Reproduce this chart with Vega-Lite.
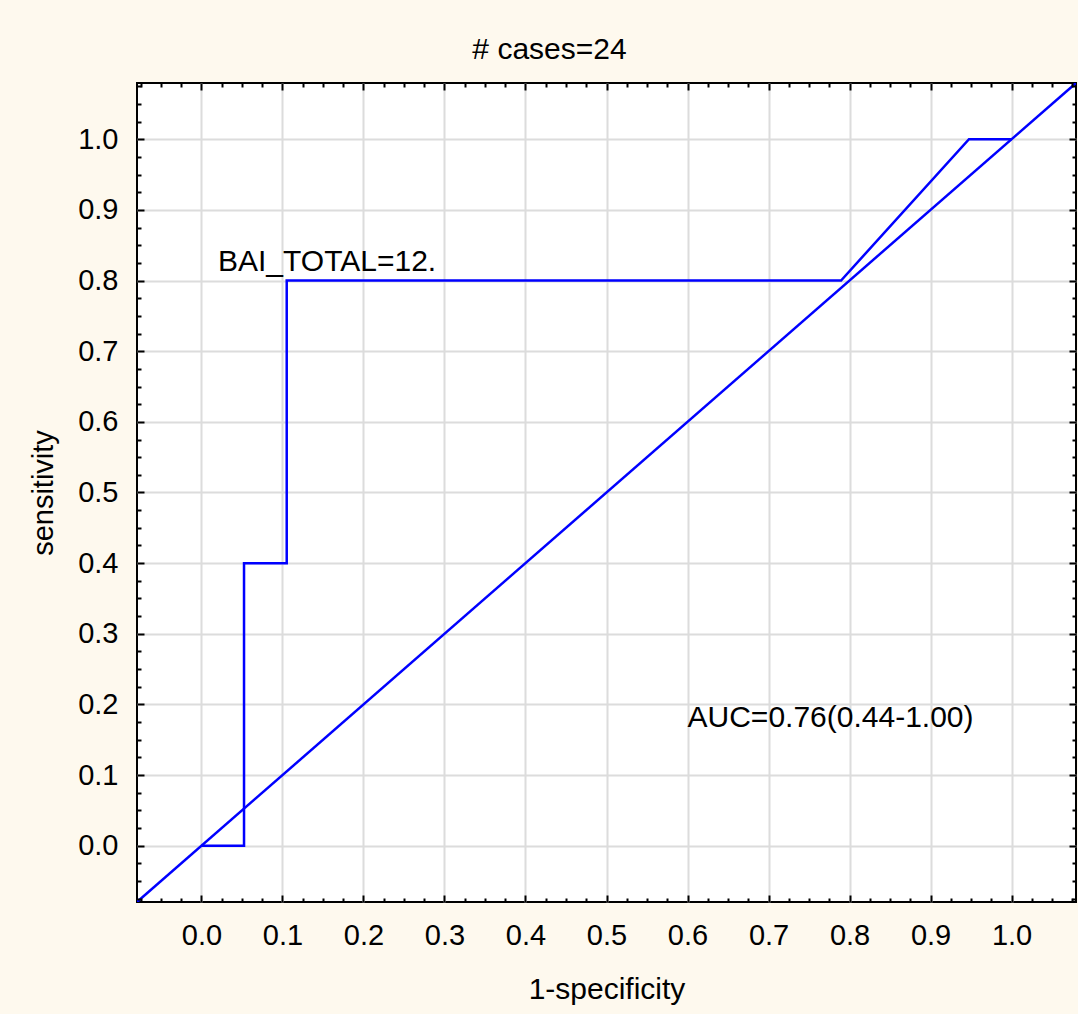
{
  "$schema": "https://vega.github.io/schema/vega-lite/v6.json",
  "width": 939,
  "height": 819,
  "autosize": "none",
  "padding": {"left": 137, "top": 83, "right": 2, "bottom": 112},
  "background": "#FEF9EE",
  "title": {
    "text": "# cases=24",
    "font": "Liberation Sans",
    "fontSize": 30,
    "fontWeight": "normal",
    "color": "black",
    "frame": "group",
    "anchor": "middle",
    "dx": -57,
    "dy": 31,
    "baseline": "alphabetic",
    "offset": 24
  },
  "config": {
    "view": {"fill": "white", "stroke": "black", "strokeWidth": 2},
    "axis": {"labelFont": "Liberation Sans", "titleFont": "Liberation Sans", "labelColor": "black", "titleColor": "black", "titleFontWeight": "normal"}
  },
  "datasets": {
    "roc": [
      {"i": 0, "fpr": 0.0, "tpr": 0.0},
      {"i": 1, "fpr": 0.0526, "tpr": 0.0},
      {"i": 2, "fpr": 0.0526, "tpr": 0.4},
      {"i": 3, "fpr": 0.1053, "tpr": 0.4},
      {"i": 4, "fpr": 0.1053, "tpr": 0.8},
      {"i": 5, "fpr": 0.7895, "tpr": 0.8},
      {"i": 6, "fpr": 0.9474, "tpr": 1.0},
      {"i": 7, "fpr": 1.0, "tpr": 1.0}
    ],
    "diag": [
      {"i": 0, "fpr": -0.0795, "tpr": -0.0795},
      {"i": 1, "fpr": 1.0795, "tpr": 1.0795}
    ],
    "note1": [{"fpr": 0.0205, "tpr": 0.8137, "label": "BAI_TOTAL=12."}],
    "note2": [{"fpr": 0.6, "tpr": 0.1675, "label": "AUC=0.76(0.44-1.00)"}]
  },
  "resolve": {"axis": {"x": "independent", "y": "independent"}},
  "layer": [
    {
      "data": {"name": "roc"},
      "mark": {"type": "line", "color": "#0000FF", "strokeWidth": 2.5, "clip": true},
      "encoding": {
        "x": {
          "field": "fpr", "type": "quantitative",
          "scale": {"domain": [-0.0795, 1.0795], "nice": false, "zero": false},
          "axis": {
            "orient": "bottom",
            "values": [0, 0.1, 0.2, 0.3, 0.4, 0.5, 0.6, 0.7, 0.8, 0.9, 1],
            "format": ".1f",
            "labelFontSize": 29,
            "labelBaseline": "alphabetic",
            "labelPadding": 42,
            "labelFlush": false,
            "labelOverlap": false,
            "ticks": false,
            "tickSize": 0,
            "domain": false,
            "grid": true,
            "gridColor": "#DCDCDC",
            "gridWidth": 2,
            "title": "1-specificity",
            "titleFontSize": 30,
            "titleX": 469.5,
            "titleY": 96,
            "titleAlign": "center",
            "titleBaseline": "alphabetic"
          }
        },
        "y": {
          "field": "tpr", "type": "quantitative",
          "scale": {"domain": [-0.0795, 1.0795], "nice": false, "zero": false},
          "axis": {
            "orient": "left",
            "values": [0, 0.1, 0.2, 0.3, 0.4, 0.5, 0.6, 0.7, 0.8, 0.9, 1],
            "format": ".1f",
            "labelFontSize": 29,
            "labelPadding": 19,
            "labelFlush": false,
            "labelOverlap": false,
            "ticks": false,
            "tickSize": 0,
            "domain": false,
            "grid": true,
            "gridColor": "#DCDCDC",
            "gridWidth": 2,
            "title": "sensitivity",
            "titleFontSize": 29,
            "titleAngle": -90,
            "titleX": -85,
            "titleY": 409.5,
            "titleAlign": "center",
            "titleBaseline": "alphabetic"
          }
        },
        "order": {"field": "i", "type": "quantitative"}
      }
    },
    {
      "data": {"name": "diag"},
      "mark": {"type": "line", "color": "#0000FF", "strokeWidth": 2.5, "clip": true},
      "encoding": {
        "x": {
          "field": "fpr", "type": "quantitative",
          "scale": {"domain": [-0.0795, 1.0795], "nice": false, "zero": false},
          "axis": {"orient": "bottom", "values": [0, 0.1, 0.2, 0.3, 0.4, 0.5, 0.6, 0.7, 0.8, 0.9, 1], "labels": false, "domain": false, "grid": false, "ticks": true, "tickSize": -7, "tickWidth": 2, "tickColor": "black", "title": null, "zindex": 1}
        },
        "y": {
          "field": "tpr", "type": "quantitative",
          "scale": {"domain": [-0.0795, 1.0795], "nice": false, "zero": false},
          "axis": {"orient": "left", "values": [0, 0.1, 0.2, 0.3, 0.4, 0.5, 0.6, 0.7, 0.8, 0.9, 1], "labels": false, "domain": false, "grid": false, "ticks": true, "tickSize": -7, "tickWidth": 2, "tickColor": "black", "title": null, "zindex": 1}
        },
        "order": {"field": "i", "type": "quantitative"}
      }
    },
    {
      "data": {"name": "note1"},
      "mark": {"type": "text", "align": "left", "baseline": "alphabetic", "font": "Liberation Sans", "fontSize": 30, "color": "black"},
      "encoding": {
        "x": {
          "field": "fpr", "type": "quantitative",
          "scale": {"domain": [-0.0795, 1.0795], "nice": false, "zero": false},
          "axis": {"orient": "bottom", "values": [-0.075, -0.05, -0.025, 0.025, 0.05, 0.075, 0.125, 0.15, 0.175, 0.225, 0.25, 0.275, 0.325, 0.35, 0.375, 0.425, 0.45, 0.475, 0.525, 0.55, 0.575, 0.625, 0.65, 0.675, 0.725, 0.75, 0.775, 0.825, 0.85, 0.875, 0.925, 0.95, 0.975, 1.025, 1.05, 1.075], "labels": false, "domain": false, "grid": false, "ticks": true, "tickSize": -4, "tickWidth": 2, "tickColor": "black", "title": null, "zindex": 1}
        },
        "y": {
          "field": "tpr", "type": "quantitative",
          "scale": {"domain": [-0.0795, 1.0795], "nice": false, "zero": false},
          "axis": {"orient": "left", "values": [-0.075, -0.05, -0.025, 0.025, 0.05, 0.075, 0.125, 0.15, 0.175, 0.225, 0.25, 0.275, 0.325, 0.35, 0.375, 0.425, 0.45, 0.475, 0.525, 0.55, 0.575, 0.625, 0.65, 0.675, 0.725, 0.75, 0.775, 0.825, 0.85, 0.875, 0.925, 0.95, 0.975, 1.025, 1.05, 1.075], "labels": false, "domain": false, "grid": false, "ticks": true, "tickSize": -4, "tickWidth": 2, "tickColor": "black", "title": null, "zindex": 1}
        },
        "text": {"field": "label", "type": "nominal"}
      }
    },
    {
      "data": {"name": "note2"},
      "mark": {"type": "text", "align": "left", "baseline": "alphabetic", "font": "Liberation Sans", "fontSize": 30, "color": "black"},
      "encoding": {
        "x": {
          "field": "fpr", "type": "quantitative",
          "scale": {"domain": [-0.0795, 1.0795], "nice": false, "zero": false},
          "axis": {"orient": "top", "values": [0, 0.1, 0.2, 0.3, 0.4, 0.5, 0.6, 0.7, 0.8, 0.9, 1], "labels": false, "domain": false, "grid": false, "ticks": true, "tickSize": -7, "tickWidth": 2, "tickColor": "black", "title": null, "zindex": 1}
        },
        "y": {
          "field": "tpr", "type": "quantitative",
          "scale": {"domain": [-0.0795, 1.0795], "nice": false, "zero": false},
          "axis": {"orient": "right", "values": [0, 0.1, 0.2, 0.3, 0.4, 0.5, 0.6, 0.7, 0.8, 0.9, 1], "labels": false, "domain": false, "grid": false, "ticks": true, "tickSize": -7, "tickWidth": 2, "tickColor": "black", "title": null, "zindex": 1}
        },
        "text": {"field": "label", "type": "nominal"}
      }
    },
    {
      "data": {"name": "note2"},
      "mark": {"type": "point", "opacity": 0},
      "encoding": {
        "x": {
          "field": "fpr", "type": "quantitative",
          "scale": {"domain": [-0.0795, 1.0795], "nice": false, "zero": false},
          "axis": {"orient": "top", "values": [-0.075, -0.05, -0.025, 0.025, 0.05, 0.075, 0.125, 0.15, 0.175, 0.225, 0.25, 0.275, 0.325, 0.35, 0.375, 0.425, 0.45, 0.475, 0.525, 0.55, 0.575, 0.625, 0.65, 0.675, 0.725, 0.75, 0.775, 0.825, 0.85, 0.875, 0.925, 0.95, 0.975, 1.025, 1.05, 1.075], "labels": false, "domain": false, "grid": false, "ticks": true, "tickSize": -4, "tickWidth": 2, "tickColor": "black", "title": null, "zindex": 1}
        },
        "y": {
          "field": "tpr", "type": "quantitative",
          "scale": {"domain": [-0.0795, 1.0795], "nice": false, "zero": false},
          "axis": {"orient": "right", "values": [-0.075, -0.05, -0.025, 0.025, 0.05, 0.075, 0.125, 0.15, 0.175, 0.225, 0.25, 0.275, 0.325, 0.35, 0.375, 0.425, 0.45, 0.475, 0.525, 0.55, 0.575, 0.625, 0.65, 0.675, 0.725, 0.75, 0.775, 0.825, 0.85, 0.875, 0.925, 0.95, 0.975, 1.025, 1.05, 1.075], "labels": false, "domain": false, "grid": false, "ticks": true, "tickSize": -4, "tickWidth": 2, "tickColor": "black", "title": null, "zindex": 1}
        }
      }
    }
  ]
}
